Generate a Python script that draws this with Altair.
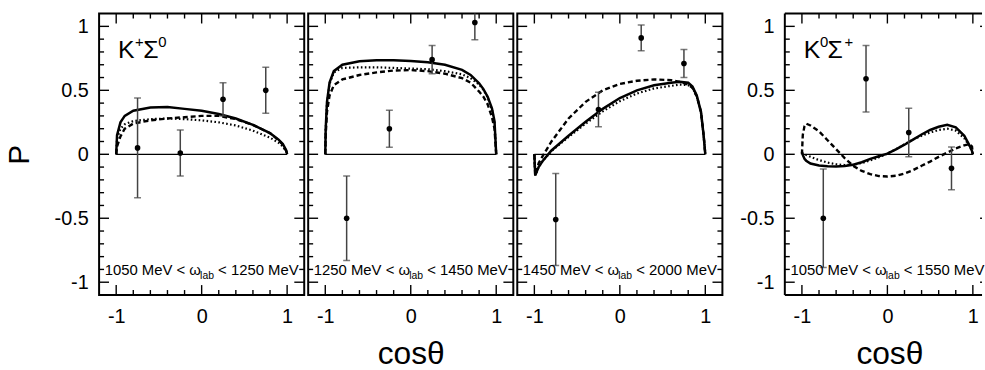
import altair as alt
import pandas as pd

FONT = "Liberation Sans, Arial, Helvetica, sans-serif"

# ---------------- data ----------------
COS_PTS = [-0.75, -0.25, 0.25, 0.75]

KS0_1_VAL = [0.05, 0.01, 0.43, 0.50]
KS0_1_ERR = [0.39, 0.18, 0.13, 0.18]
KS0_2_VAL = [-0.50, 0.20, 0.74, 1.03]
KS0_2_ERR = [0.33, 0.145, 0.11, 0.135]
KS0_3_VAL = [-0.51, 0.35, 0.91, 0.71]
KS0_3_ERR = [0.36, 0.135, 0.10, 0.11]
K0S_VAL = [-0.50, 0.59, 0.17, -0.11]
K0S_ERR = [0.385, 0.26, 0.19, 0.167]

C1_X = [-1, -0.99, -0.95, -0.9, -0.8, -0.6, -0.4, -0.2, 0, 0.2, 0.4, 0.6, 0.8, 0.9, 0.95, 0.99, 1]
C1_SOLID = [0, 0.15, 0.25, 0.30, 0.34, 0.365, 0.37, 0.355, 0.34, 0.315, 0.28, 0.23, 0.165, 0.115, 0.08, 0.03, 0]
C1_DASHED = [0, 0.06, 0.14, 0.20, 0.24, 0.265, 0.28, 0.29, 0.30, 0.30, 0.275, 0.23, 0.165, 0.11, 0.075, 0.025, 0]
C1_DOTTED = [0, 0.12, 0.20, 0.235, 0.26, 0.275, 0.28, 0.275, 0.265, 0.25, 0.225, 0.185, 0.13, 0.09, 0.06, 0.02, 0]

C2_X = [-1, -0.995, -0.98, -0.95, -0.9, -0.8, -0.6, -0.4, -0.2, 0, 0.2, 0.4, 0.6, 0.7, 0.8, 0.85, 0.9, 0.95, 0.98, 1]
C2_SOLID = [0, 0.2, 0.41, 0.56, 0.65, 0.70, 0.728, 0.735, 0.735, 0.73, 0.72, 0.70, 0.66, 0.62, 0.555, 0.51, 0.45, 0.36, 0.26, 0]
C2_DASHED = [0, 0.15, 0.33, 0.46, 0.54, 0.585, 0.62, 0.64, 0.655, 0.658, 0.65, 0.63, 0.595, 0.56, 0.49, 0.45, 0.39, 0.29, 0.2, 0]
C2_DOTTED = [0, 0.2, 0.4, 0.55, 0.64, 0.675, 0.68, 0.68, 0.675, 0.67, 0.665, 0.65, 0.625, 0.595, 0.545, 0.505, 0.445, 0.35, 0.25, 0]

C3_X = [-1, -0.99, -0.95, -0.9, -0.8, -0.6, -0.4, -0.2, 0, 0.2, 0.4, 0.6, 0.7, 0.8, 0.85, 0.9, 0.95, 0.98, 1]
C3_SOLID = [0, -0.165, -0.10, -0.05, 0.03, 0.145, 0.255, 0.355, 0.44, 0.50, 0.54, 0.56, 0.567, 0.56, 0.53, 0.46, 0.33, 0.15, 0]
C3_DASHED = [0, -0.165, -0.07, -0.01, 0.10, 0.28, 0.41, 0.50, 0.55, 0.575, 0.585, 0.58, 0.565, 0.545, 0.52, 0.455, 0.33, 0.15, 0]
C3_DOTTED = [0, -0.165, -0.10, -0.05, 0.025, 0.135, 0.24, 0.335, 0.415, 0.475, 0.515, 0.535, 0.545, 0.54, 0.52, 0.45, 0.32, 0.15, 0]

C4_X = [-1, -0.99, -0.97, -0.95, -0.9, -0.8, -0.7, -0.6, -0.5, -0.4, -0.3, -0.2, -0.1, 0,
        0.1, 0.2, 0.3, 0.4, 0.5, 0.6, 0.7, 0.8, 0.9, 0.96, 0.99, 1]
C4_SOLID = [0.02, -0.005, -0.035, -0.05, -0.072, -0.088, -0.094, -0.096, -0.092, -0.082, -0.062, -0.036, -0.015, 0.005,
            0.038, 0.075, 0.115, 0.155, 0.19, 0.215, 0.23, 0.21, 0.145, 0.07, 0.025, 0]
C4_DASHED = [0.0, 0.15, 0.22, 0.24, 0.225, 0.18, 0.11, 0.04, -0.03, -0.09, -0.13, -0.155, -0.17, -0.174,
             -0.168, -0.15, -0.124, -0.09, -0.057, -0.02, 0.013, 0.045, 0.07, 0.08, 0.06, 0]
C4_DOTTED = [0.01, 0.005, 0.0, -0.005, -0.02, -0.045, -0.065, -0.078, -0.084, -0.082, -0.068, -0.048, -0.024, 0.005,
             0.04, 0.078, 0.116, 0.145, 0.17, 0.19, 0.2, 0.185, 0.125, 0.065, 0.025, 0]

X_LABELS = [-1, 0, 1]
Y_LABELS = [-1, -0.5, 0, 0.5, 1]
X_MAJOR = [-1, 0, 1]
X_MINOR = [-0.8, -0.6, -0.4, -0.2, 0.2, 0.4, 0.6, 0.8]
Y_MAJOR = [-1, -0.5, 0, 0.5, 1]
Y_MINOR = [-0.9, -0.8, -0.7, -0.6, -0.4, -0.3, -0.2, -0.1, 0.1, 0.2, 0.3, 0.4, 0.6, 0.7, 0.8, 0.9]

LABEL_KS0 = [("K", 25, 0.0, 0), ("+", 15, 17.3, -11), ("Σ", 25, 25.7, 0), ("0", 15, 40.7, -11)]
LABEL_K0S = [("K", 25, 0.0, 0), ("0", 15, 16.6, -11), ("Σ", 25, 24.0, 0), ("+", 15, 41.3, -11)]
ENERGY = [("1050", "1250"), ("1250", "1450"), ("1450", "2000"), ("1050", "1550")]

# ---------------- layout ----------------
W = 207
W4 = 199
H = 284
YDOM = [-1.1, 1.1]
XDOM = [-1.2, 1.2]
XDOM4 = [-1.2, -1.2 + W4 * 2.4 / W]
PX_X = 2.4 / W      # data units per pixel along x
PX_Y = 2.2 / H      # data units per pixel along y
MAJ_LEN = 10
MIN_LEN = 5

# Arial / Liberation Sans advance widths (em)
AW = {" ": 0.278, "M": 0.833, "e": 0.556, "V": 0.667, "<": 0.584, "ω": 0.72,
      "l": 0.222, "a": 0.556, "b": 0.556}


def text_w(s, size):
    return sum(AW.get(c, 0.556) for c in s) * size


def make_x(field, xdom, title, title_x):
    kw = dict(values=X_LABELS, ticks=False, domain=False, grid=False,
              labelFont=FONT, labelFontSize=20, labelColor="black", labelPadding=12,
              labelExpr="toString(datum.value)", labelFlush=False)
    scale = alt.Scale(domain=xdom, nice=False, zero=False)
    if title:
        kw.update(titleFont=FONT, titleFontSize=32, titleFontWeight="normal", titleColor="black",
                  titleX=title_x, titleY=69, titleAlign="center", titleBaseline="alphabetic")
        return alt.X(field, type="quantitative", scale=scale, axis=alt.Axis(**kw), title=title)
    return alt.X(field, type="quantitative", scale=scale, axis=alt.Axis(**kw), title=None)


def make_y(field, mode):
    scale = alt.Scale(domain=YDOM, nice=False, zero=False)
    if mode == "none":
        return alt.Y(field, type="quantitative", scale=scale, axis=None)
    kw = dict(values=Y_LABELS, ticks=False, domain=False, grid=False,
              labelFont=FONT, labelFontSize=20, labelColor="black", labelPadding=11,
              labelExpr="toString(datum.value)", labelFlush=False)
    if mode == "full":
        kw.update(titleFont=FONT, titleFontSize=30, titleFontWeight="normal", titleColor="black",
                  titleX=-80, titleY=H / 2, titleAngle=270, titleAlign="center", titleBaseline="middle")
        return alt.Y(field, type="quantitative", scale=scale, axis=alt.Axis(**kw), title="P")
    return alt.Y(field, type="quantitative", scale=scale, axis=alt.Axis(**kw), title=None)


def panel(vals, errs, cx, solid, dashed, dotted, label, energy, xdom, width, ymode,
          xtitle, xtitle_x, clipped_right):
    X = lambda f: make_x(f, xdom, xtitle, xtitle_x)
    Y = lambda f: make_y(f, ymode)
    layers = []

    # ---- inward ticks on all four sides (lengths converted from pixels to data units)
    x0, x1 = XDOM
    y0, y1 = YDOM
    xe = xdom[1]
    ty, tx, tx2 = [], [], []
    for v in Y_MAJOR:
        ty += [v, v]
        tx += [x0, x1 - MAJ_LEN * PX_X]
        tx2 += [x0 + MAJ_LEN * PX_X, xe]
    for v in Y_MINOR:
        ty += [v]
        tx += [x0]
        tx2 += [x0 + MIN_LEN * PX_X]
        if not clipped_right:
            ty += [v]
            tx += [x1 - MIN_LEN * PX_X]
            tx2 += [x1]
    ydf = pd.DataFrame({"y": ty, "x": tx, "x2": tx2})
    layers.append(alt.Chart(ydf).mark_rule(color="black", strokeWidth=1.4)
                  .encode(x=X("x"), x2=alt.X2("x2"), y=Y("y")))

    bx, by, by2 = [], [], []
    for v in X_MAJOR:
        bx += [v, v]
        by += [y0, y1 - MAJ_LEN * PX_Y]
        by2 += [y0 + MAJ_LEN * PX_Y, y1]
    for v in X_MINOR:
        bx += [v, v]
        by += [y0, y1 - MIN_LEN * PX_Y]
        by2 += [y0 + MIN_LEN * PX_Y, y1]
    xdf = pd.DataFrame({"x": bx, "y": by, "y2": by2})
    layers.append(alt.Chart(xdf).mark_rule(color="black", strokeWidth=1.4)
                  .encode(x=X("x"), y=Y("y"), y2=alt.Y2("y2")))

    # zero line
    zdf = pd.DataFrame({"x": [-1], "x2": [1], "y": [0]})
    layers.append(alt.Chart(zdf).mark_rule(color="black", strokeWidth=1.2)
                  .encode(x=X("x"), x2=alt.X2("x2"), y=Y("y")))

    # model curves
    cdf = pd.DataFrame({"x": cx, "s": solid, "d": dashed, "o": dotted})
    layers.append(alt.Chart(cdf).mark_line(color="black", strokeWidth=2.2, strokeDash=[1.6, 2.4], clip=True)
                  .encode(x=X("x"), y=Y("o")))
    layers.append(alt.Chart(cdf).mark_line(color="black", strokeWidth=2.4, strokeDash=[5, 3], clip=True)
                  .encode(x=X("x"), y=Y("d")))
    layers.append(alt.Chart(cdf).mark_line(color="black", strokeWidth=2.5, clip=True)
                  .encode(x=X("x"), y=Y("s")))

    # data points with error bars
    pdf = pd.DataFrame({"x": COS_PTS, "y": vals,
                        "lo": [v - e for v, e in zip(vals, errs)],
                        "hi": [v + e for v, e in zip(vals, errs)]})
    layers.append(alt.Chart(pdf).mark_rule(color="#444444", strokeWidth=1.5, clip=True)
                  .encode(x=X("x"), y=Y("lo"), y2=alt.Y2("hi")))
    layers.append(alt.Chart(pdf).mark_tick(orient="horizontal", size=7, thickness=1.5, color="#444444", clip=True)
                  .encode(x=X("x"), y=Y("lo")))
    layers.append(alt.Chart(pdf).mark_tick(orient="horizontal", size=7, thickness=1.5, color="#444444", clip=True)
                  .encode(x=X("x"), y=Y("hi")))
    layers.append(alt.Chart(pdf).mark_circle(size=32, color="black", opacity=1)
                  .encode(x=X("x"), y=Y("y")))

    if clipped_right:
        fdf = pd.DataFrame({"x": [x0, x0, x0], "x2": [x0, xe, xe], "y": [y0, y1, y0], "y2": [y1, y1, y0]})
        layers.append(alt.Chart(fdf).mark_rule(color="black", strokeWidth=2)
                      .encode(x=X("x"), x2=alt.X2("x2"), y=Y("y"), y2=alt.Y2("y2")))

    # reaction label
    if label:
        ldf = pd.DataFrame({"x": [-0.98], "y": [0.756]})
        for txt, size, dx, dy in label:
            layers.append(alt.Chart(ldf).mark_text(text=txt, font=FONT, fontSize=size, align="left",
                                                   baseline="alphabetic", dx=dx, dy=dy, color="black")
                          .encode(x=X("x"), y=Y("y")))

    # energy range label
    lo, hi = energy
    a = lo + " MeV < ω"
    c = "< " + hi + " MeV"
    wa = text_w(a, 15)
    wb = text_w("lab", 10.5)
    wc = text_w(" " + c, 15)
    start = -(wa + wb + wc) / 2
    edf = pd.DataFrame({"x": [0], "y": [-0.946]})
    pieces = [(a, 15, start, 0), ("lab", 10.5, start + wa, 3.5), (c, 15, start + wa + wb + text_w(" ", 15), 0)]
    for txt, size, dx, dy in pieces:
        layers.append(alt.Chart(edf).mark_text(text=txt, font=FONT, fontSize=size, align="left",
                                               baseline="alphabetic", dx=dx, dy=dy, color="black")
                      .encode(x=X("x"), y=Y("y")))

    ch = alt.layer(*layers).properties(width=width, height=H)
    if clipped_right:
        ch = ch.properties(view=alt.ViewBackground(stroke=None))
    return ch


p1 = panel(KS0_1_VAL, KS0_1_ERR, C1_X, C1_SOLID, C1_DASHED, C1_DOTTED, LABEL_KS0, ENERGY[0],
           XDOM, W, "full", None, 0, False)
p2 = panel(KS0_2_VAL, KS0_2_ERR, C2_X, C2_SOLID, C2_DASHED, C2_DOTTED, None, ENERGY[1],
           XDOM, W, "none", "cosθ", W / 2, False)
p3 = panel(KS0_3_VAL, KS0_3_ERR, C3_X, C3_SOLID, C3_DASHED, C3_DOTTED, None, ENERGY[2],
           XDOM, W, "none", None, 0, False)
p4 = panel(K0S_VAL, K0S_ERR, C4_X, C4_SOLID, C4_DASHED, C4_DOTTED, LABEL_K0S, ENERGY[3],
           XDOM4, W4, "labels", "cosθ", W / 2 + 2, True)

left = alt.hconcat(p1, p2, p3, spacing=0)
chart = (alt.hconcat(left, p4, spacing=15)
         .properties(padding={"left": 4, "top": 10, "right": 0, "bottom": 0}, background="white")
         .configure_view(stroke="black", strokeWidth=2))

chart.save("out.html", embed_options={"renderer": "svg", "actions": False})
